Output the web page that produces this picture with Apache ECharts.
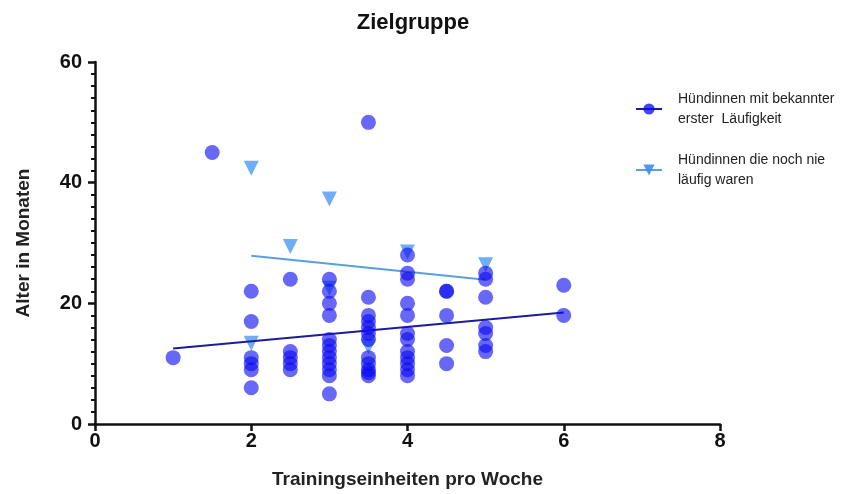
<!DOCTYPE html>
<html>
<head>
<meta charset="utf-8">
<script src="https://cdn.jsdelivr.net/npm/echarts@6/dist/echarts.min.js"></script>
<style>html,body{margin:0;padding:0;background:#fff;}#c{width:861px;height:494px;}</style>
</head>
<body>
<div id="c"></div>
<script>
const titleText = "Zielgruppe";
const xAxisName = "Trainingseinheiten pro Woche";
const yAxisName = "Alter in Monaten";
const seriesNames = ["Hündinnen mit bekannter\nerster  Läufigkeit", "Hündinnen die noch nie\nläufig waren"];

// Group 1: circles (x = training units per week, y = age in months)
const circleX = [1, 1.5,
  2, 2, 2, 2, 2, 2,
  2.5, 2.5, 2.5, 2.5, 2.5,
  3, 3, 3, 3, 3, 3, 3, 3, 3, 3, 3, 3,
  3.5, 3.5, 3.5, 3.5, 3.5, 3.5, 3.5, 3.5, 3.5, 3.5, 3.5, 3.5,
  4, 4, 4, 4, 4, 4, 4, 4, 4, 4, 4, 4,
  4.5, 4.5, 4.5, 4.5, 4.5,
  5, 5, 5, 5, 5, 5, 5,
  6, 6];
const circleY = [11, 45,
  22, 17, 11, 10, 9, 6,
  24, 12, 11, 10, 9,
  24, 22, 20, 18, 14, 13, 12, 11, 10, 9, 8, 5,
  50, 21, 18, 17, 16, 15, 14, 11, 10, 9, 8.5, 8,
  28, 25, 24, 20, 18, 15, 14, 12, 11, 10, 9, 8,
  22, 22, 18, 13, 10,
  25, 24, 21, 16, 15, 13, 12,
  23, 18];

// Group 2: triangles
const triX = [2, 2, 2.5, 3, 3, 3.5, 4, 5];
const triY = [42.4, 13.4, 29.4, 37.3, 22.5, 12.8, 28.5, 26.4];

// Fitted lines (end points)
const circleFitX = [1, 6];
const circleFitY = [12.5, 18.5];
const triFitX = [2, 5];
const triFitY = [27.9, 23.9];

const xTicks = [0, 2, 4, 6, 8];
const yTicks = [0, 20, 40, 60];

function pairs(xs, ys) { return xs.map((x, i) => [x, ys[i]]); }

const circleColor = 'rgba(10,10,240,0.77)';
const triColor = 'rgba(60,145,240,0.92)';
const circleLine = '#1c1c9c';
const triLine = '#5a9fe0';

const font = '"Liberation Sans", Arial, sans-serif';
const chart = echarts.init(document.getElementById('c'));
chart.setOption({
  animation: false,
  backgroundColor: '#fff',
  title: {
    text: titleText, left: 408, top: 7, textAlign: 'center',
    textStyle: { fontFamily: font, fontWeight: 'bold', fontSize: 22, color: '#111' }
  },
  legend: {
    orient: 'vertical', left: 630, top: 84, itemGap: 21,
    itemWidth: 26, itemHeight: 14,
    data: seriesNames,
    textStyle: { fontFamily: font, fontSize: 14, color: '#222', lineHeight: 20, padding: [0, 0, 0, 11] }
  },
  grid: { left: 95, right: 141, top: 62, bottom: 70 },
  xAxis: {
    type: 'value', min: xTicks[0], max: xTicks[xTicks.length - 1], interval: 2,
    name: xAxisName, nameLocation: 'middle', nameGap: 46,
    nameTextStyle: { fontFamily: font, fontWeight: 'bold', fontSize: 19, color: '#222' },
    axisLine: { lineStyle: { color: '#111', width: 2.5 } },
    axisTick: { length: 7, lineStyle: { width: 2.5, color: '#111' } },
    axisLabel: { fontFamily: font, fontWeight: 'bold', fontSize: 20, color: '#111', margin: 7 },
    splitLine: { show: false }
  },
  yAxis: {
    type: 'value', min: yTicks[0], max: yTicks[yTicks.length - 1], interval: 20,
    name: yAxisName, nameLocation: 'middle', nameGap: 62,
    nameTextStyle: { fontFamily: font, fontWeight: 'bold', fontSize: 19, color: '#222' },
    axisLine: { show: true, lineStyle: { color: '#111', width: 2.5 } },
    axisTick: { show: true, length: 7, lineStyle: { width: 2.5, color: '#111' } },
    minorTick: { show: true, splitNumber: 10, length: 4, lineStyle: { width: 2, color: '#111' } },
    axisLabel: { fontFamily: font, fontWeight: 'bold', fontSize: 20, color: '#111', margin: 13 },
    splitLine: { show: false }
  },
  series: [
    {
      name: seriesNames[0], type: 'line', data: pairs(circleFitX, circleFitY),
      symbol: 'circle', symbolSize: 14, showSymbol: false,
      itemStyle: { color: circleColor },
      lineStyle: { color: circleLine, width: 2 }, z: 3
    },
    {
      name: seriesNames[1], type: 'line', data: pairs(triFitX, triFitY),
      symbol: 'triangle', symbolRotate: 180, symbolSize: 14, showSymbol: false,
      itemStyle: { color: triColor },
      lineStyle: { color: triLine, width: 2 }, z: 3
    },
    {
      name: seriesNames[1], type: 'scatter', data: pairs(triX, triY),
      symbol: 'triangle', symbolRotate: 180, symbolSize: 15,
      itemStyle: { color: triColor }, z: 2
    },
    {
      name: seriesNames[0], type: 'scatter', data: pairs(circleX, circleY),
      symbol: 'circle', symbolSize: 15,
      itemStyle: { color: circleColor }, z: 4
    }
  ]
});
</script>
</body>
</html>
